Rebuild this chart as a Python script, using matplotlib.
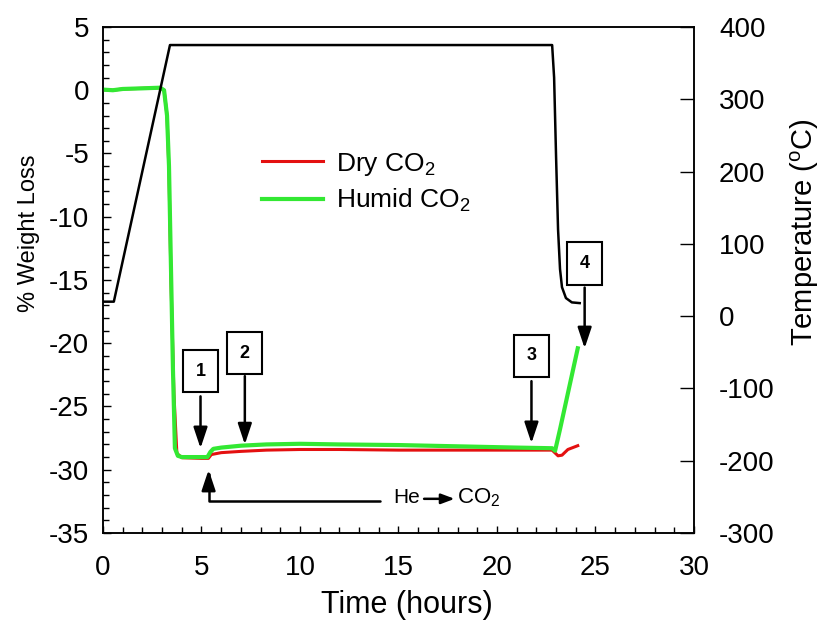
import matplotlib
matplotlib.use("Agg")
import matplotlib.pyplot as plt
from matplotlib.ticker import MultipleLocator

plt.rcParams.update({
    "font.family": "Liberation Sans",
    "mathtext.fontset": "custom",
    "mathtext.rm": "Liberation Sans",
    "mathtext.it": "Liberation Sans:italic",
    "mathtext.bf": "Liberation Sans:bold",
    "axes.unicode_minus": False,
})

# weight loss, humid CO2 (hours, %)
humid_t = [0, 0.5, 1, 2, 2.9, 3.1, 3.25, 3.35, 3.45, 3.55, 3.65, 3.8, 4.0, 5.0,
           5.3, 5.45, 5.6, 6.0, 7.0, 8.3, 10, 12, 15, 18, 21, 22.8, 22.95, 23.2, 24.1]
humid_w = [0.05, 0.0, 0.1, 0.15, 0.2, 0.0, -2.0, -6.0, -14.0, -22.0, -28.3, -28.9,
           -29.0, -29.0, -29.0, -28.6, -28.35, -28.25, -28.1, -28.0, -27.95, -28.0,
           -28.05, -28.15, -28.25, -28.3, -28.5, -26.8, -20.4]

# weight loss, dry CO2
dry_t = [0, 0.5, 1, 2, 2.9, 3.1, 3.25, 3.35, 3.45, 3.6, 3.75, 4.0, 5.0, 5.35,
         5.5, 6.0, 7.0, 8.3, 10, 12, 15, 18, 21, 22.8, 23.1, 23.3, 23.6, 24.1]
dry_w = [0.05, 0.0, 0.1, 0.15, 0.2, 0.0, -2.0, -6.5, -15.0, -24.0, -28.7, -29.05,
         -29.1, -29.1, -28.8, -28.65, -28.55, -28.45, -28.4, -28.4, -28.45, -28.45,
         -28.45, -28.45, -28.9, -28.85, -28.4, -28.1]

# furnace temperature (hours, degC)
temp_t = [0, 0.55, 3.4, 22.8, 22.9, 23.0, 23.1, 23.2, 23.3, 23.5, 23.8, 24.2]
temp_c = [20, 20, 375, 375, 330, 220, 120, 65, 40, 25, 19, 18]

# numbered markers: (label, box x, box y, arrow top, arrow tip)
marks = [
    ("1", 4.95, -22.2, -24.2, -28.3),
    ("2", 7.2, -20.8, -22.6, -28.0),
    ("3", 21.75, -21.0, -23.0, -27.9),
    ("4", 24.45, -13.7, -15.6, -20.4),
]

fig = plt.figure(figsize=(8.24, 6.26), dpi=100)
ax = fig.add_axes([0.125, 0.1486, 0.7172, 0.8083])
ax2 = ax.twinx()

ax.plot(dry_t, dry_w, color="#e41010", lw=2.2, label="Dry CO$_2$", zorder=3)
ax.plot(humid_t, humid_w, color="#33e833", lw=3.0, label="Humid CO$_2$", zorder=4)
ax2.plot(temp_t, temp_c, color="black", lw=1.8)

ax.set_xlim(0, 30)
ax.set_ylim(-35, 5)
ax2.set_ylim(-300, 400)

ax.xaxis.set_major_locator(MultipleLocator(5))
ax.xaxis.set_minor_locator(MultipleLocator(1))
ax.yaxis.set_major_locator(MultipleLocator(5))
ax.yaxis.set_minor_locator(MultipleLocator(1))
ax2.yaxis.set_major_locator(MultipleLocator(100))

ax.tick_params(axis="x", which="major", direction="in", length=5, width=1, labelsize=20, pad=16)
ax.tick_params(axis="x", which="minor", direction="in", length=4, width=1)
ax.tick_params(axis="y", which="major", direction="in", length=6, width=1, labelsize=20, pad=10)
ax.tick_params(axis="y", which="minor", direction="in", length=4, width=1)
ax2.tick_params(axis="y", which="major", direction="in", length=10, width=1, labelsize=20, pad=18)

for a in (ax, ax2):
    for s in a.spines.values():
        s.set_linewidth(1.1)

ax.set_xlabel("Time (hours)", fontsize=22)
ax.xaxis.set_label_coords(0.514, -0.112)
ax.set_ylabel("% Weight Loss", fontsize=17)
ax.yaxis.set_label_coords(-0.107, 0.593)
ax2.set_ylabel(r"Temperature ($\mathregular{^o}$C)", fontsize=21)
ax2.yaxis.set_label_coords(1.16, 0.595)

leg = ax.legend(loc="center left", bbox_to_anchor=(0.269, 0.693), frameon=False,
                fontsize=19, handlelength=2.3, handletextpad=0.5, labelspacing=0.35,
                borderpad=0, borderaxespad=0)

arrow = dict(arrowstyle="-|>,head_length=0.9,head_width=0.3", color="black", lw=1.8,
             mutation_scale=14, shrinkA=0, shrinkB=0)
for label, bx, by, top, tip in marks:
    ax.text(bx, by, label, fontsize=13, fontweight="bold", ha="center", va="center",
            bbox=dict(boxstyle="square,pad=0.7", fc="white", ec="black", lw=1.5), zorder=6)
    ax.annotate("", xy=(bx, tip), xytext=(bx, top), arrowprops=arrow, zorder=6)

# gas switch He -> CO2
ax.annotate("", xy=(5.36, -30.0), xytext=(14.06, -32.5),
            arrowprops=dict(arrow, connectionstyle="angle,angleA=180,angleB=90,rad=0"))
ax.text(14.75, -32.2, "He", fontsize=15, ha="left", va="center")
ax.annotate("", xy=(17.85, -32.3), xytext=(16.3, -32.3),
            arrowprops=dict(arrowstyle="-|>,head_length=0.8,head_width=0.3", color="black",
                            lw=1.8, mutation_scale=10, shrinkA=0, shrinkB=0))
ax.text(17.96, -32.2, "CO$_2$", fontsize=16, ha="left", va="center")

fig.savefig("out.png", dpi=100)
